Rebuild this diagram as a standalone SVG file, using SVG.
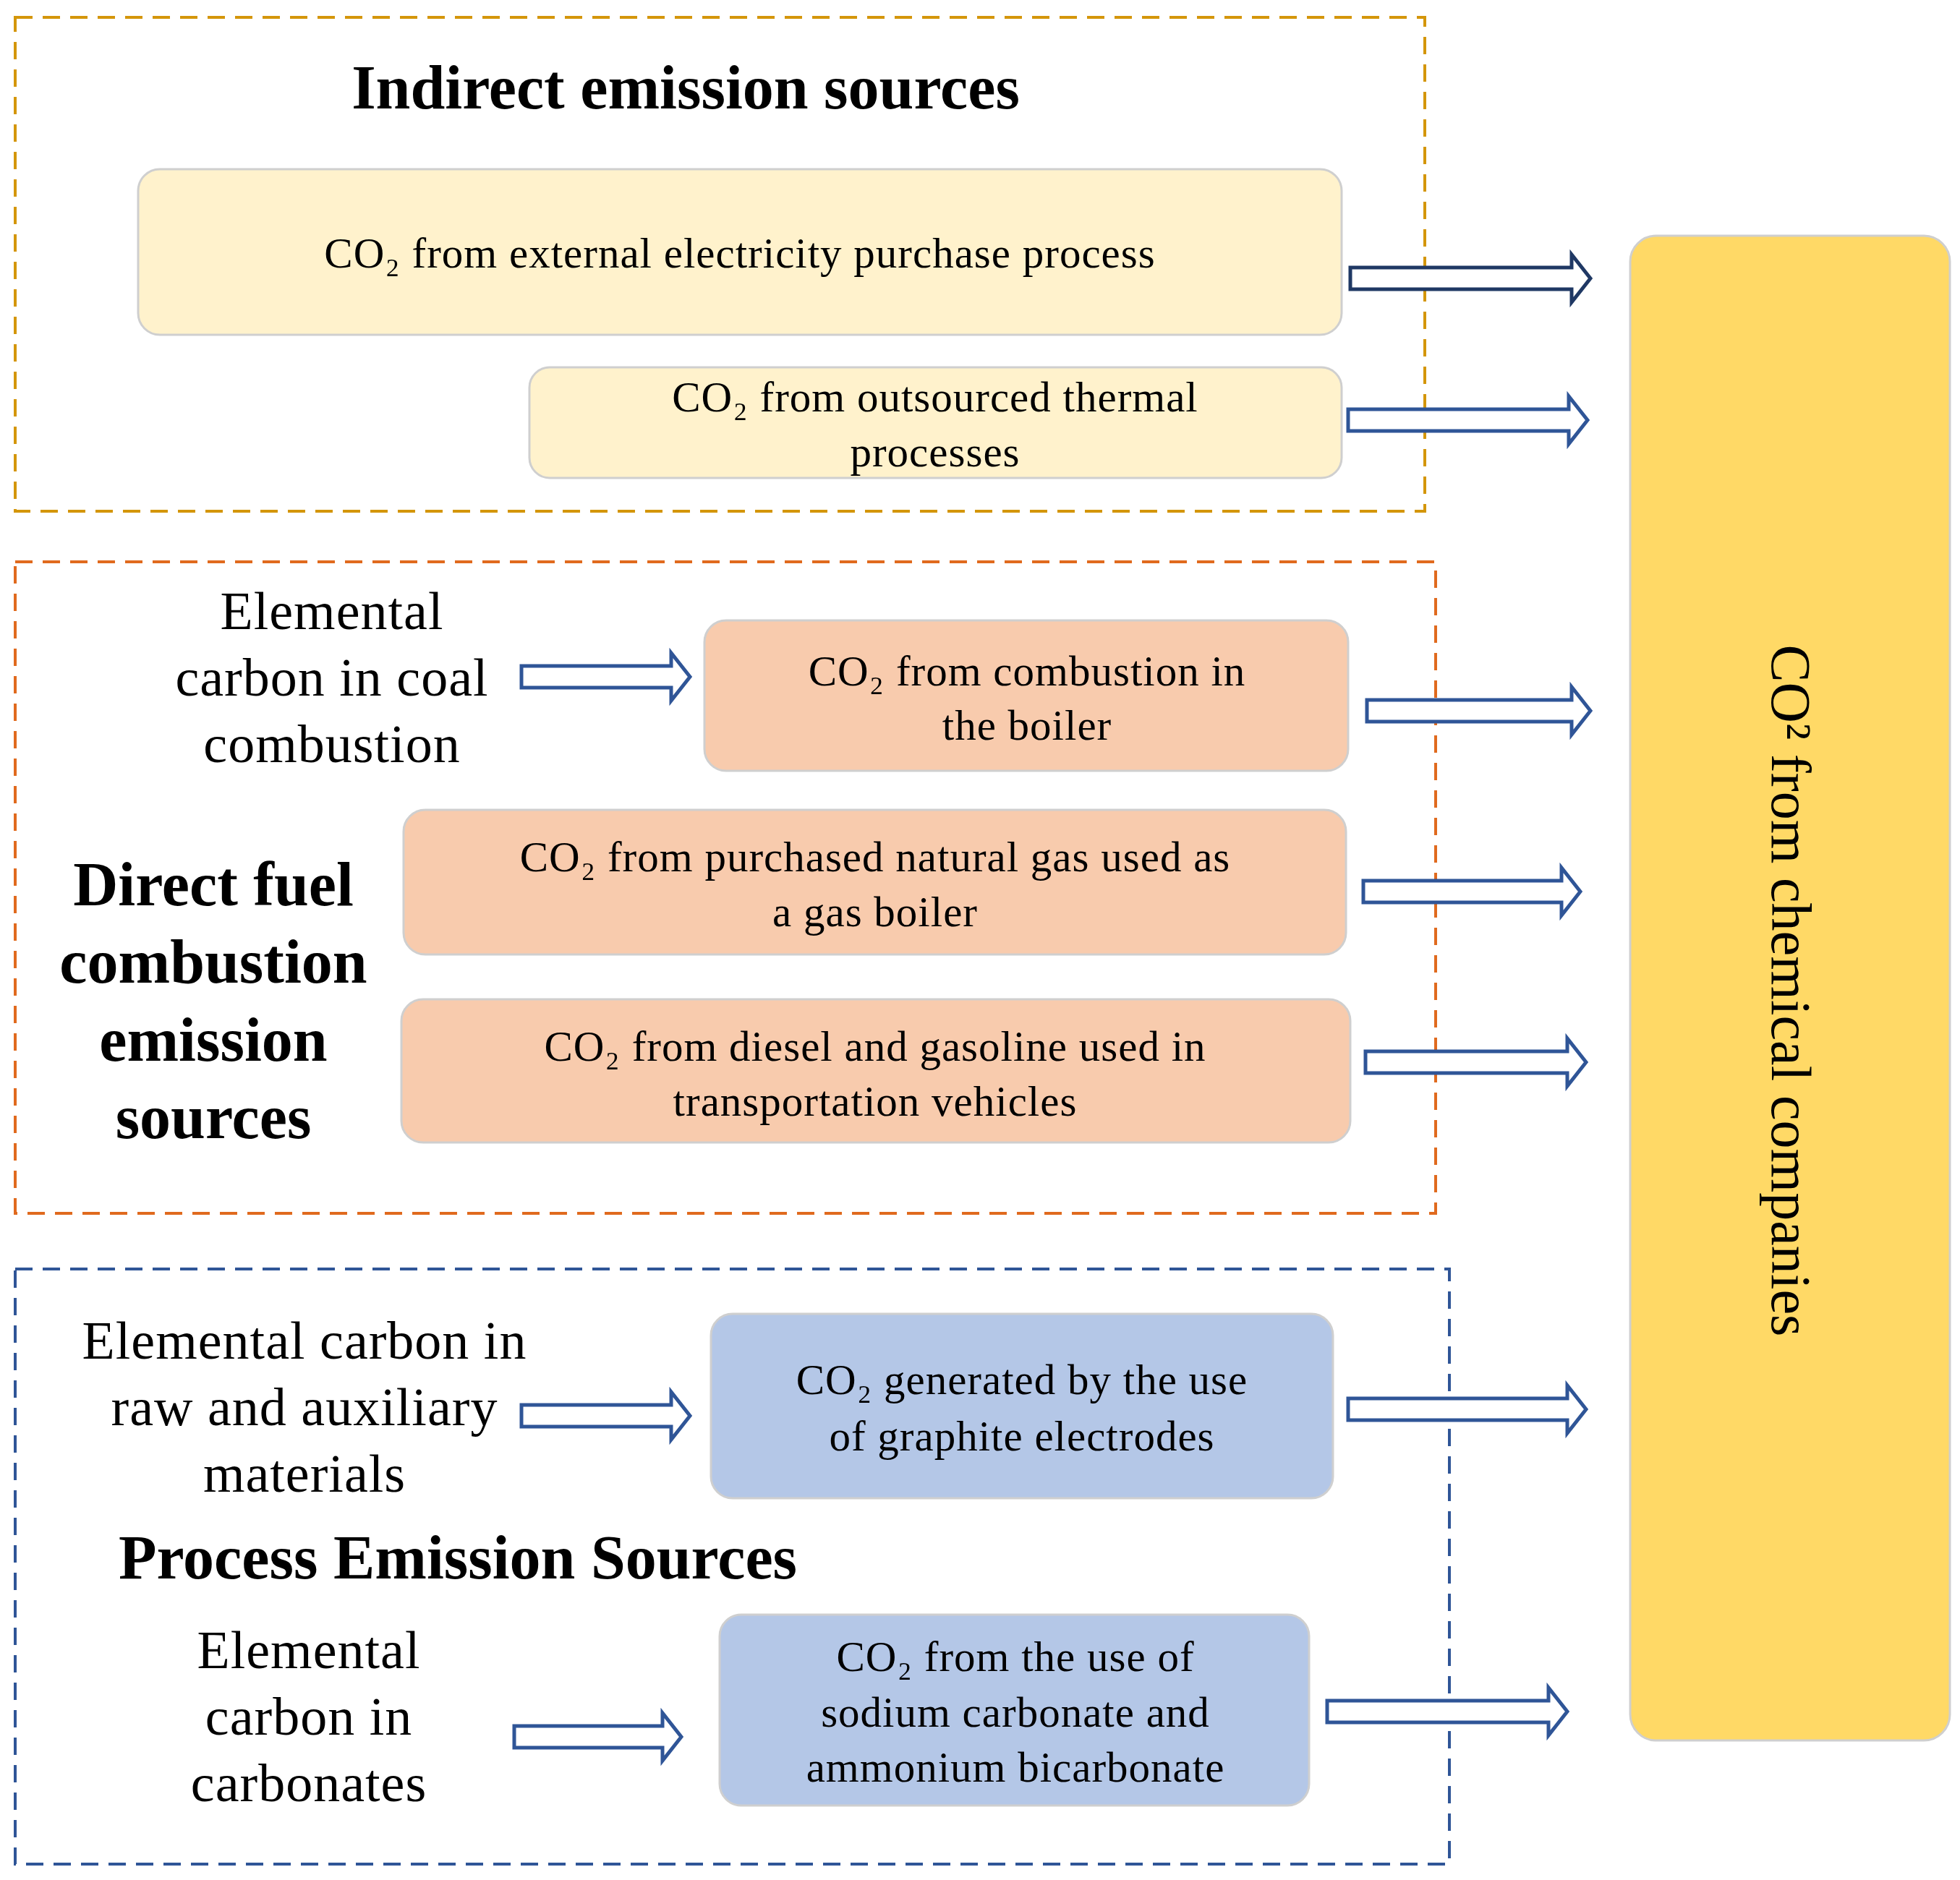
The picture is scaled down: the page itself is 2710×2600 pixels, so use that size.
<svg xmlns="http://www.w3.org/2000/svg" width="2710" height="2600" viewBox="0 0 2710 2600">
<style>
.t{font-family:"Liberation Serif",serif;font-size:59px;fill:#000;text-anchor:middle;letter-spacing:1px}
.l{font-family:"Liberation Serif",serif;font-size:74px;fill:#000;text-anchor:middle;letter-spacing:1px}
.h{font-family:"Liberation Serif",serif;font-size:86px;font-weight:bold;fill:#000;text-anchor:middle}
.ar{fill:#fff;stroke:#2F5597;stroke-width:5}
.box{stroke:#CFCFCF;stroke-width:3}
</style>
<rect width="2710" height="2600" fill="#fff"/>
<g id="group-indirect">
<rect x="21" y="24" width="1949" height="683" fill="none" stroke="#D4960A" stroke-width="4" stroke-dasharray="24,14"/>
<text class="h" x="948" y="150">Indirect emission sources</text>
</g>
<g id="group-direct">
<rect x="21" y="777" width="1964" height="901" fill="none" stroke="#E06A1E" stroke-width="4" stroke-dasharray="24,14"/>
<text class="h" x="295" y="1252">Direct fuel</text>
<text class="h" x="295" y="1359">combustion</text>
<text class="h" x="295" y="1467">emission</text>
<text class="h" x="295" y="1574">sources</text>
</g>
<g id="group-process">
<rect x="21" y="1755" width="1983" height="823" fill="none" stroke="#2F5597" stroke-width="4" stroke-dasharray="24,14"/>
<text class="h" x="633" y="2183">Process Emission Sources</text>
</g>
<g id="n1"><rect class="box" x="191" y="234" width="1664" height="229" rx="30" fill="#FFF2CC"/>
<text class="t" x="1023" y="370">CO₂  from external electricity purchase process</text></g>
<g id="n2"><rect class="box" x="732" y="508" width="1123" height="153" rx="28" fill="#FFF2CC"/>
<text class="t" x="1293" y="569">CO₂ from outsourced thermal</text><text class="t" x="1293" y="645">processes</text></g>
<g id="src1"><text class="l" x="459" y="870">Elemental</text><text class="l" x="459" y="962">carbon in coal</text><text class="l" x="459" y="1054">combustion</text></g>
<g id="n3"><rect class="box" x="974" y="858" width="890" height="208" rx="30" fill="#F8CBAD"/>
<text class="t" x="1420" y="948">CO₂  from combustion in</text><text class="t" x="1420" y="1023">the boiler</text></g>
<g id="n4"><rect class="box" x="558" y="1120" width="1303" height="200" rx="30" fill="#F8CBAD"/>
<text class="t" x="1210" y="1205">CO₂  from purchased natural gas used as</text><text class="t" x="1210" y="1281">a gas boiler</text></g>
<g id="n5"><rect class="box" x="555" y="1382" width="1312" height="198" rx="30" fill="#F8CBAD"/>
<text class="t" x="1210" y="1467">CO₂ from diesel and gasoline used in</text><text class="t" x="1210" y="1543">transportation vehicles</text></g>
<g id="src2"><text class="l" x="421" y="1879">Elemental carbon in</text><text class="l" x="421" y="1971">raw and auxiliary</text><text class="l" x="421" y="2063">materials</text></g>
<g id="n6"><rect class="box" x="983" y="1817" width="860" height="255" rx="30" fill="#B4C7E7"/>
<text class="t" x="1413" y="1928">CO₂  generated by the use</text><text class="t" x="1413" y="2006">of graphite electrodes</text></g>
<g id="src3"><text class="l" x="427" y="2307">Elemental</text><text class="l" x="427" y="2399">carbon in</text><text class="l" x="427" y="2491">carbonates</text></g>
<g id="n7"><rect class="box" x="995" y="2233" width="815" height="264" rx="30" fill="#B4C7E7"/>
<text class="t" x="1404" y="2311">CO₂  from the use of</text><text class="t" x="1404" y="2388">sodium carbonate and</text><text class="t" x="1404" y="2464">ammonium bicarbonate</text></g>
<g id="target"><rect class="box" x="2254" y="326" width="442" height="2081" rx="36" fill="#FFD966"/>
<text transform="translate(2476,1370) rotate(90)" font-family="Liberation Serif,serif" font-size="78" text-anchor="middle" dominant-baseline="central">CO² from chemical companies</text></g>
<g id="connectors">
<path class="ar" style="stroke:#1F3864" d="M1867,370 H2173 V352 L2199,385 L2173,418 V400 H1867 Z"/>
<path class="ar" d="M1864,566 H2169 V548 L2195,581 L2169,614 V596 H1864 Z"/>
<path class="ar" d="M721,921 H928 V903 L954,936 L928,969 V951 H721 Z"/>
<path class="ar" d="M1890,968 H2173 V950 L2199,983 L2173,1016 V998 H1890 Z"/>
<path class="ar" d="M1885,1218 H2159 V1200 L2185,1233 L2159,1266 V1248 H1885 Z"/>
<path class="ar" d="M1888,1454 H2167 V1436 L2193,1469 L2167,1502 V1484 H1888 Z"/>
<path class="ar" d="M721,1943 H928 V1925 L954,1958 L928,1991 V1973 H721 Z"/>
<path class="ar" d="M1864,1934 H2167 V1916 L2193,1949 L2167,1982 V1964 H1864 Z"/>
<path class="ar" d="M711,2387 H916 V2369 L942,2402 L916,2435 V2417 H711 Z"/>
<path class="ar" d="M1835,2352 H2141 V2334 L2167,2367 L2141,2400 V2382 H1835 Z"/>
</g>
</svg>
